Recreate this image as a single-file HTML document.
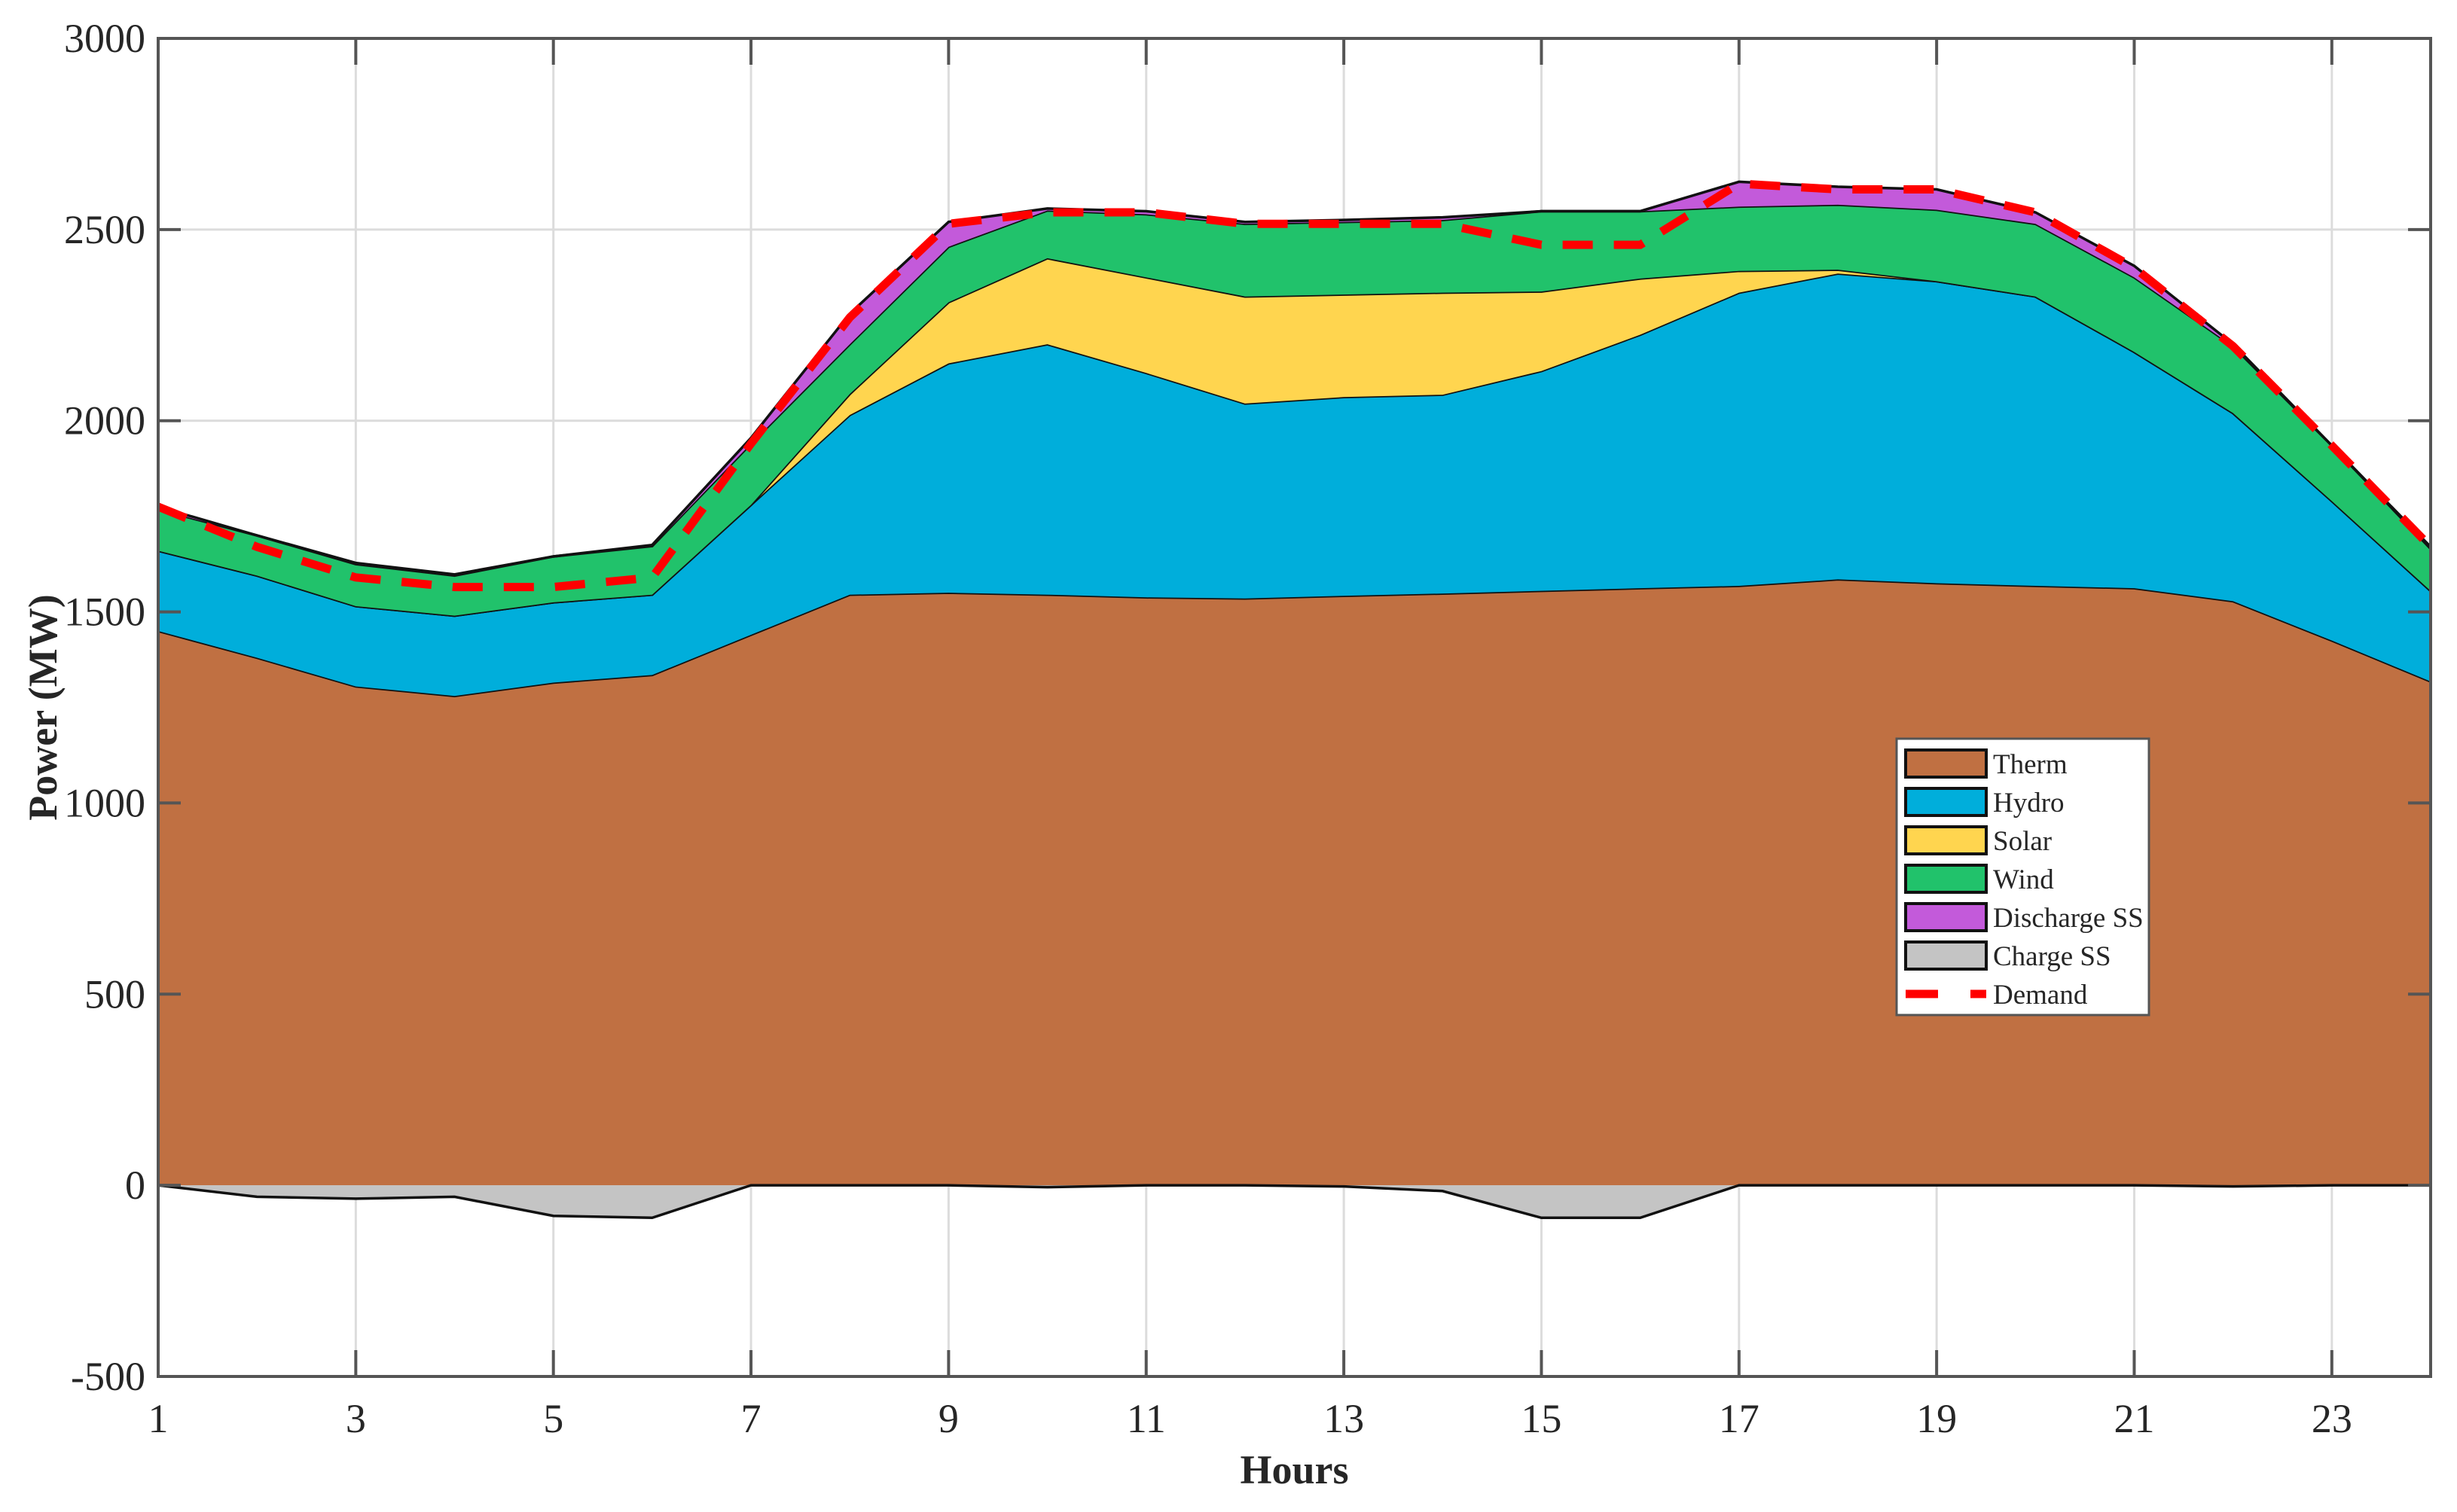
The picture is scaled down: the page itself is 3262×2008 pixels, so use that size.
<!DOCTYPE html>
<html><head><meta charset="utf-8"><style>
html,body{margin:0;padding:0;background:#fff}
svg{display:block}
text{font-family:"Liberation Serif",serif;fill:#262626}
</style></head><body>
<svg id="chart" width="3262" height="2008" viewBox="0 0 3262 2008" xmlns="http://www.w3.org/2000/svg">
<g id="grid"></g>
<g id="areas"></g>
<g id="demandG"></g>
<g id="axes"></g>
<g id="legend"></g>
</svg>
<script>
const hours = [1,2,3,4,5,6,7,8,9,10,11,12,13,14,15,16,17,18,19,20,21,22,23,24];
const therm = [1450,1380,1305,1280,1315,1335,1440,1545,1550,1545,1538,1535,1542,1548,1555,1562,1568,1585,1575,1568,1562,1528,1425,1318];
const hydro = [210,215,210,210,210,210,340,470,600,655,587,510,520,520,575,663,767,800,790,757,618,492,365,237];
const solar = [0,0,0,0,0,0,0,55,160,225,250,280,268,267,208,147,57,10,0,0,0,0,0,0];
const wind = [108,105,110,105,120,127,160,130,145,125,165,190,190,190,210,176,168,170,187,190,195,175,145,110];
const discharge = [7,0,3,3,0,3,15,80,65,5,8,5,5,7,0,0,65,47,53,30,30,5,0,5];
const charge = [0,-30,-35,-30,-80,-85,0,0,0,-5,0,0,-3,-15,-85,-85,0,0,0,0,0,-3,0,0];
const demand = [1775,1670,1590,1565,1565,1590,1940,2270,2515,2545,2545,2515,2515,2515,2460,2460,2620,2605,2605,2545,2400,2195,1935,1670];
const yTicks = [-500,0,500,1000,1500,2000,2500,3000];
const xTicks = [1,3,5,7,9,11,13,15,17,19,21,23];

const L=210,R=3227,T=51,B=1828;
const xs = h => L + (h-1)/(23)*(R-L);
const ys = v => T + (3000-v)/3500*(B-T);
const NS="http://www.w3.org/2000/svg";
function mk(tag, attrs, parent){const e=document.createElementNS(NS,tag);for(const k in attrs)e.setAttribute(k,attrs[k]);parent.appendChild(e);return e;}

const grid=document.getElementById('grid');
yTicks.forEach(v=>{const l=mk('line',{x1:L,x2:R,y1:ys(v),y2:ys(v),stroke:'#dcdcdc','stroke-width':3},grid);

});
xTicks.forEach(h=>{const l=mk('line',{x1:xs(h),x2:xs(h),y1:T,y2:B,stroke:'#dcdcdc','stroke-width':3},grid);

});

// stacked areas
const series=[['therm',therm,'#C07042'],['hydro',hydro,'#00AEDB'],['solar',solar,'#FFD54F'],['wind',wind,'#21C26B'],['discharge',discharge,'#C35ADA']];
const areas=document.getElementById('areas');
let base=hours.map(()=>0);
series.forEach(([name,vals,col])=>{
  const top=base.map((b,i)=>b+vals[i]);
  let d='M'+hours.map((h,i)=>xs(h)+','+ys(top[i])).join(' L');
  for(let i=hours.length-1;i>=0;i--) d+=' L'+xs(hours[i])+','+ys(base[i]);
  d+='Z';
  const p=mk('path',{d:d,fill:col,stroke:'none'},areas);
  
  
  const ln=mk('polyline',{points:hours.map((h,i)=>xs(h)+','+ys(top[i])).join(' '),fill:'none',stroke:'#111','stroke-width':3.5},areas);
  
  
  base=top;
});
{
  let d='M'+hours.map((h,i)=>xs(h)+','+ys(charge[i])).join(' L');
  d+=' L'+xs(24)+','+ys(0)+' L'+xs(1)+','+ys(0)+'Z';
  const p=mk('path',{d:d,fill:'#C4C4C4',stroke:'none'},areas);
  
  
  const ln=mk('polyline',{points:hours.map((h,i)=>xs(h)+','+ys(charge[i])).join(' '),fill:'none',stroke:'#111','stroke-width':3.5},areas);
  
  
}
const dg=document.getElementById('demandG');
const dl=mk('polyline',{points:hours.map((h,i)=>xs(h)+','+ys(demand[i])).join(' '),fill:'none',stroke:'#FF0000','stroke-width':11,'stroke-dasharray':'40 28'},dg);



// axes
const ax=document.getElementById('axes');
const fr=mk('rect',{x:L,y:T,width:R-L,height:B-T,fill:'none',stroke:'#555','stroke-width':4},ax);


yTicks.forEach(v=>{
  mk('line',{x1:L,x2:L+30,y1:ys(v),y2:ys(v),stroke:'#555','stroke-width':4},ax);
  mk('line',{x1:R-30,x2:R,y1:ys(v),y2:ys(v),stroke:'#555','stroke-width':4},ax);
  const t=mk('text',{x:193,y:ys(v)+18,'text-anchor':'end','font-size':54},ax);
  t.textContent=v;
  
  
});
xTicks.forEach(h=>{
  mk('line',{x1:xs(h),x2:xs(h),y1:B,y2:B-35,stroke:'#555','stroke-width':4},ax);
  mk('line',{x1:xs(h),x2:xs(h),y1:T,y2:T+35,stroke:'#555','stroke-width':4},ax);
  const t=mk('text',{x:xs(h),y:1902,'text-anchor':'middle','font-size':54},ax);
  t.textContent=h;
  
  
});
const xt=mk('text',{x:(L+R)/2,y:1970,'text-anchor':'middle','font-size':54,'font-weight':'bold'},ax);
xt.textContent='Hours';


const yt=mk('text',{x:0,y:0,'text-anchor':'middle','font-size':54,'font-weight':'bold',transform:'translate(75,'+((T+B)/2)+') rotate(-90)'},ax);
yt.textContent='Power (MW)';



// legend
const lg=document.getElementById('legend');
const lb=mk('rect',{x:2518,y:981,width:335,height:367,fill:'#fff',stroke:'#555','stroke-width':3},lg);


const names=['Therm','Hydro','Solar','Wind','Discharge SS','Charge SS','Demand'];
const cols=['#C07042','#00AEDB','#FFD54F','#21C26B','#C35ADA','#C4C4C4'];
names.forEach((n,i)=>{
  const cy=1014+i*51;
  if(i<6){
    const r=mk('rect',{x:2530,y:cy-18,width:107,height:36,fill:cols[i],stroke:'#111','stroke-width':4},lg);
    
    
  } else {
    const r=mk('line',{x1:2530,x2:2637,y1:cy,y2:cy,stroke:'#FF0000','stroke-width':11,'stroke-dasharray':'43 43'},lg);
    
    
  }
  const t=mk('text',{x:2646,y:cy+13,'font-size':37,fill:'#111'},lg);
  t.textContent=n;
  
  
});
</script>
</body></html>
